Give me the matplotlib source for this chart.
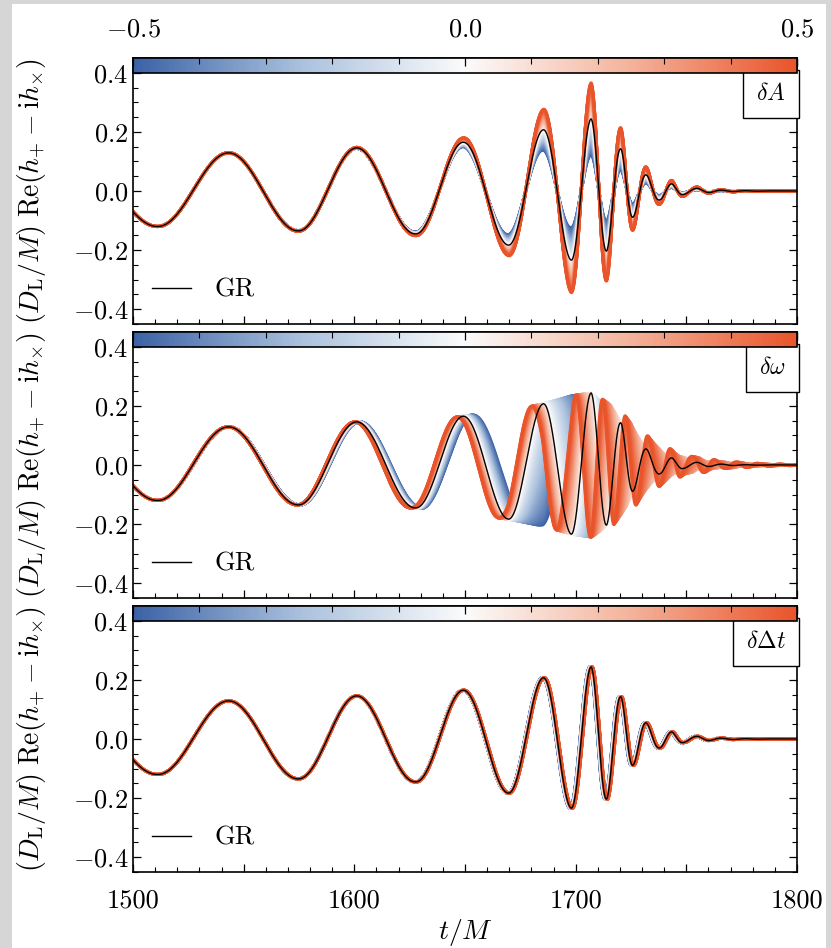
import numpy as np
import matplotlib
matplotlib.use('Agg')
import matplotlib.pyplot as plt
import matplotlib.cm as cm
from matplotlib.colors import LinearSegmentedColormap, Normalize
from matplotlib.ticker import MultipleLocator, FuncFormatter
from matplotlib.patches import Rectangle

plt.rcParams['font.family'] = 'serif'
plt.rcParams['font.serif'] = ['cmr10']
plt.rcParams['mathtext.fontset'] = 'cm'
plt.rcParams['axes.formatter.use_mathtext'] = True

# --- GR waveform: successive extrema (t/M, strain) ---
t_start, h_start = 1500.0, -0.07
t_ext = np.array([1511, 1543, 1574.5, 1601, 1627.5, 1649, 1669.5, 1685.3, 1698,
                  1707, 1714, 1720.5, 1726, 1732, 1738, 1743.5, 1748.5, 1755,
                  1760.5, 1766])
h_ext = np.array([-0.120, 0.129, -0.135, 0.146, -0.145, 0.165, -0.183, 0.207,
                  -0.234, 0.244, -0.203, 0.142, -0.088, 0.054, -0.030, 0.024,
                  -0.012, 0.009, -0.005, 0.003])
t_tail, h_tail = 1800.0, 1e-4
t_merger = 1707.0

# --- deviation parameter values (colour bar) ---
deltas = np.linspace(-0.5, 0.5, 81)

# delta A : relative amplitude change per unit delta
amp_t = np.array([1500, 1600, 1627, 1649, 1669, 1685, 1698, 1707, 1800])
amp_gain = np.array([0.0, 0.02, 0.08, 0.18, 0.38, 0.66, 0.94, 1.0, 1.0])

# delta omega : phase shift (rad) at delta = +0.5 and delta = -0.5
ph_t = np.array([1500, 1560, 1600, 1630, 1650, 1670, 1685, 1700, 1720, 1800])
ph_adv = np.array([0.0, 0.03, 0.12, 0.28, 0.45, 0.75, 1.2, 2.4, 5.0, 11.0])
ph_lag = np.array([0.0, 0.04, 0.16, 0.35, 0.6, 1.05, 2.9, 3.8, 5.0, 8.0])
decay_gain = 0.9

# delta Delta t : time shift (M) per unit delta
dt_t = np.array([1500, 1600, 1660, 1700, 1800])
dt_shift = np.array([0.0, 0.2, 0.6, 1.1, 1.1])

panel_labels = [r'$\delta A$', r'$\delta\omega$', r'$\delta\Delta t$']


def gr_amp_phase(t):
    k = np.arange(len(t_ext))
    ph = np.pi * (k + 1)
    ph0 = np.arccos(h_start / abs(h_ext[0]))
    slope = np.pi / (t_ext[-1] - t_ext[-2])
    tt = np.concatenate([[t_start - 50], t_ext, [t_tail + 50]])
    s0 = (ph[0] - ph0) / (t_ext[0] - t_start)
    pp = np.concatenate([[ph0 - s0 * 50], ph, [ph[-1] + slope * (t_tail + 50 - t_ext[-1])]])
    phase = np.interp(t, tt, pp)
    ta = np.concatenate([t_ext, [t_tail]])
    la = np.log(np.concatenate([np.abs(h_ext), [h_tail]]))
    amp = np.exp(np.interp(t, ta, la))
    return amp, phase


t = np.linspace(1500, 1800, 3000)
A, PHI = gr_amp_phase(t)
h_gr = A * np.cos(PHI)

cmap = LinearSegmentedColormap.from_list('bwr_custom', ['#3b62a6', '#a9c0dd', '#fbfbfb', '#f4b39b', '#e9542a'])
norm = Normalize(vmin=-0.5, vmax=0.5)


def family(panel, d):
    if panel == 0:
        return A * (1 + d * np.interp(t, amp_t, amp_gain)) * np.cos(PHI)
    if panel == 1:
        shift = np.interp(t, ph_t, ph_adv if d > 0 else ph_lag) * 2 * d
        t_eff = np.where(t > t_merger, t_merger + (t - t_merger) / (1 + decay_gain * d), t)
        a, _ = gr_amp_phase(t_eff)
        return a * np.cos(PHI + shift)
    s = d * np.interp(t, dt_t, dt_shift)
    a, p = gr_amp_phase(t - s)
    return a * np.cos(p)


fig = plt.figure(figsize=(8.31, 9.48), dpi=100)
fig.patch.set_facecolor('#d6d6d6')
fig.patches.append(Rectangle((12 / 831, 0), 814 / 831, 944 / 948, transform=fig.transFigure,
                             facecolor='white', edgecolor='none', zorder=-10))

left, width, height = 133 / 831, 664 / 831, 266 / 948
tops = [58, 332, 606]
sm = cm.ScalarMappable(cmap=cmap, norm=norm)
sm.set_array([])
fs = 19

for i, top in enumerate(tops):
    ax = fig.add_axes([left, 1 - (top + 266) / 948, width, height])
    for d in deltas:
        ax.plot(t, family(i, d), color=cmap(norm(d)), lw=2.2, solid_capstyle='round')
    ax.plot(t, h_gr, color='black', lw=1.0, label='GR')

    ax.set_xlim(1500, 1800)
    ax.set_ylim(-0.45, 0.45)
    ax.xaxis.set_major_locator(MultipleLocator(50))
    ax.xaxis.set_minor_locator(MultipleLocator(10))
    ax.yaxis.set_major_locator(MultipleLocator(0.2))
    ax.yaxis.set_minor_locator(MultipleLocator(0.05))
    ax.tick_params(which='both', direction='in', top=True, right=True, labelsize=fs)
    ax.tick_params(which='major', length=6, width=0.9)
    ax.tick_params(which='minor', length=3.5, width=0.8)
    if i == 2:
        ax.xaxis.set_major_formatter(FuncFormatter(lambda x, p: f'{int(round(x))}' if round(x) % 100 == 0 else ''))
        ax.tick_params(axis='x', pad=12)
        ax.set_xlabel(r'$t/M$', fontsize=20, labelpad=3)
    else:
        ax.tick_params(labelbottom=False)
    ax.set_ylabel(r'$(D_{\mathrm{L}}/M)\ \mathrm{Re}(h_{+} - \mathrm{i}h_{\times})$', fontsize=20)
    ax.yaxis.set_label_coords(-0.128, 0.5)
    for sp in ax.spines.values():
        sp.set_linewidth(1.2)

    ax.legend(loc='center left', bbox_to_anchor=(0.028, 0.128), frameon=False, fontsize=fs,
              handlelength=1.5, handletextpad=0.9, borderpad=0, borderaxespad=0)

    # colour bar strip along the top of the panel
    cax = ax.inset_axes([0, 0.945, 1, 0.055])
    cb = fig.colorbar(sm, cax=cax, orientation='horizontal')
    cb.outline.set_linewidth(1.2)
    cax.xaxis.set_ticks_position('top')
    cax.set_xticks([-0.5, 0.0, 0.5])
    cax.xaxis.set_minor_locator(MultipleLocator(0.1))
    cax.tick_params(which='both', direction='in', top=True, bottom=False, labelsize=fs, pad=12)
    cax.tick_params(which='major', length=6, width=0.9)
    cax.tick_params(which='minor', length=4, width=0.8)
    if i != 0:
        cax.tick_params(labeltop=False)

    ax.annotate(panel_labels[i], xy=(1, 0.945), xycoords='axes fraction',
                xytext=(-11, -10), textcoords='offset pixels', ha='right', va='top', fontsize=17,
                bbox=dict(boxstyle='square,pad=0.55', fc='white', ec='black', lw=1.0), zorder=5)

fig.savefig('out.png', dpi=100, facecolor=fig.get_facecolor())
